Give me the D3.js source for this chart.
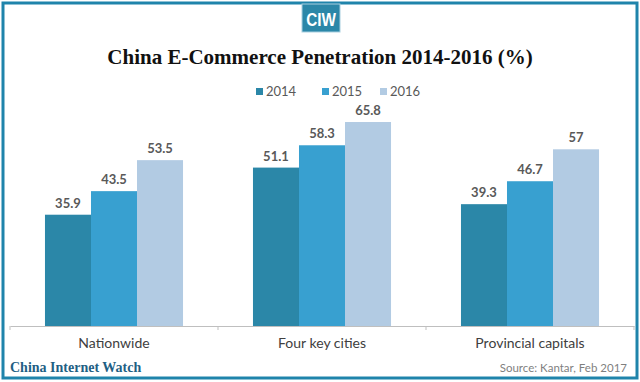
<!DOCTYPE html>
<html><head><meta charset="utf-8">
<script src="https://cdn.jsdelivr.net/npm/d3@7"></script>
<style>body{margin:0;background:#fff}svg{display:block}</style>
</head><body>
<svg id="c" width="640" height="382"></svg>
<script>
const categories = ["Nationwide", "Four key cities", "Provincial capitals"];
const years = ["2014", "2015", "2016"];
const values2014 = [35.9, 51.1, 39.3];
const values2015 = [43.5, 58.3, 46.7];
const values2016 = [53.5, 65.8, 57];
const seriesValues = [values2014, values2015, values2016];
const colors = ["#2b87a8", "#38a0d0", "#b2cbe3"];
const labelText = ["35.9","51.1","39.3","43.5","58.3","46.7","53.5","65.8","57"];

const svg = d3.select("#c");
// frame
svg.append("rect").attr("x",0).attr("y",0).attr("width",640).attr("height",382).attr("fill","#fff");
svg.append("rect").attr("x",3).attr("y",3).attr("width",634).attr("height",375)
  .attr("fill","none").attr("stroke","#1f84ab").attr("stroke-width",3);

// logo
svg.append("rect").attr("x",302).attr("y",4).attr("width",38).attr("height",28).attr("fill","#2b87a8")
  .attr("stroke","#a9cfe0").attr("stroke-width",1);
svg.append("text").attr("x",321).attr("y",26).attr("text-anchor","middle")
  .attr("font-family","Liberation Sans Narrow, Liberation Sans, sans-serif").attr("font-weight","bold")
  .attr("font-size",18).attr("fill","#fff").attr("transform","translate(321,0) scale(0.85,1) translate(-321,0)").text("CIW");

// title
svg.append("text").attr("x",320).attr("y",64).attr("text-anchor","middle")
  .attr("font-family","Liberation Serif, serif").attr("font-weight","bold").attr("font-size",21)
  .attr("fill","#111").text("China E-Commerce Penetration 2014-2016 (%)");

// scales
const baseY = 326, pxPerUnit = 3.1;
const y = d3.scaleLinear().domain([0, 70]).range([baseY, baseY - 70*pxPerUnit]);
const x0 = d3.scaleBand().domain(categories).range([10, 634]).paddingInner(0).paddingOuter(0);
const x1 = d3.scaleBand().domain(years).range([0, x0.bandwidth()]).paddingInner(0).paddingOuter(0.76);

// axis
const axis = d3.axisBottom(x0).tickSize(0).tickPadding(0);
const gx = svg.append("g").attr("transform",`translate(0,${baseY})`).call(axis);
gx.select(".domain").attr("stroke","#bfbfbf").attr("stroke-width",1);
gx.selectAll(".tick text").remove();
// boundary ticks
const bounds = [10, ...categories.map(c => x0(c) + x0.bandwidth())];
svg.append("g").selectAll("line").data(bounds).join("line")
  .attr("x1",d=>d).attr("x2",d=>d).attr("y1",baseY).attr("y2",baseY+4)
  .attr("stroke","#bfbfbf");
svg.append("g").selectAll("text").data(categories).join("text")
  .attr("x",d=>x0(d)+x0.bandwidth()/2).attr("y",348).attr("text-anchor","middle")
  .attr("font-family","Lato, sans-serif").attr("font-size",14).attr("fill","#404040").text(d=>d);

// bars
const data = [];
years.forEach((yr, si) => categories.forEach((c, ci) => data.push({yr, c, v: seriesValues[si][ci], si, ci})));
svg.append("g").selectAll("rect").data(data).join("rect")
  .attr("x", d => x0(d.c) + x1(d.yr))
  .attr("width", x1.bandwidth())
  .attr("y", d => y(d.v))
  .attr("height", d => baseY - y(d.v))
  .attr("fill", d => colors[d.si]);
svg.append("g").selectAll("text").data(data).join("text")
  .attr("x", d => x0(d.c) + x1(d.yr) + x1.bandwidth()/2)
  .attr("y", d => y(d.v) - 7)
  .attr("text-anchor","middle").attr("font-family","Lato, sans-serif").attr("font-weight","bold")
  .attr("font-size",13).attr("fill","#595959")
  .text(d => labelText[d.si*3 + d.ci]);

// legend
const legendX = [256, 322, 380];
const lg = svg.append("g").selectAll("g").data(years).join("g")
  .attr("transform",(d,i)=>`translate(${legendX[i]},88)`);
lg.append("rect").attr("width",7).attr("height",7).attr("fill",(d,i)=>colors[i]);
lg.append("text").attr("x",10).attr("y",8).attr("font-family","Lato, sans-serif").attr("font-size",13)
  .attr("fill","#595959").text(d=>d);

// footer
svg.append("text").attr("x",10).attr("y",372).attr("font-family","Liberation Serif, serif").attr("font-weight","bold")
  .attr("font-size",14).attr("fill","#1f5f84").text("China Internet Watch");
svg.append("text").attr("x",627).attr("y",372).attr("text-anchor","end").attr("font-family","Lato, sans-serif")
  .attr("font-size",11.5).attr("fill","#7f7f7f").text("Source: Kantar, Feb 2017");
</script>
</body></html>
